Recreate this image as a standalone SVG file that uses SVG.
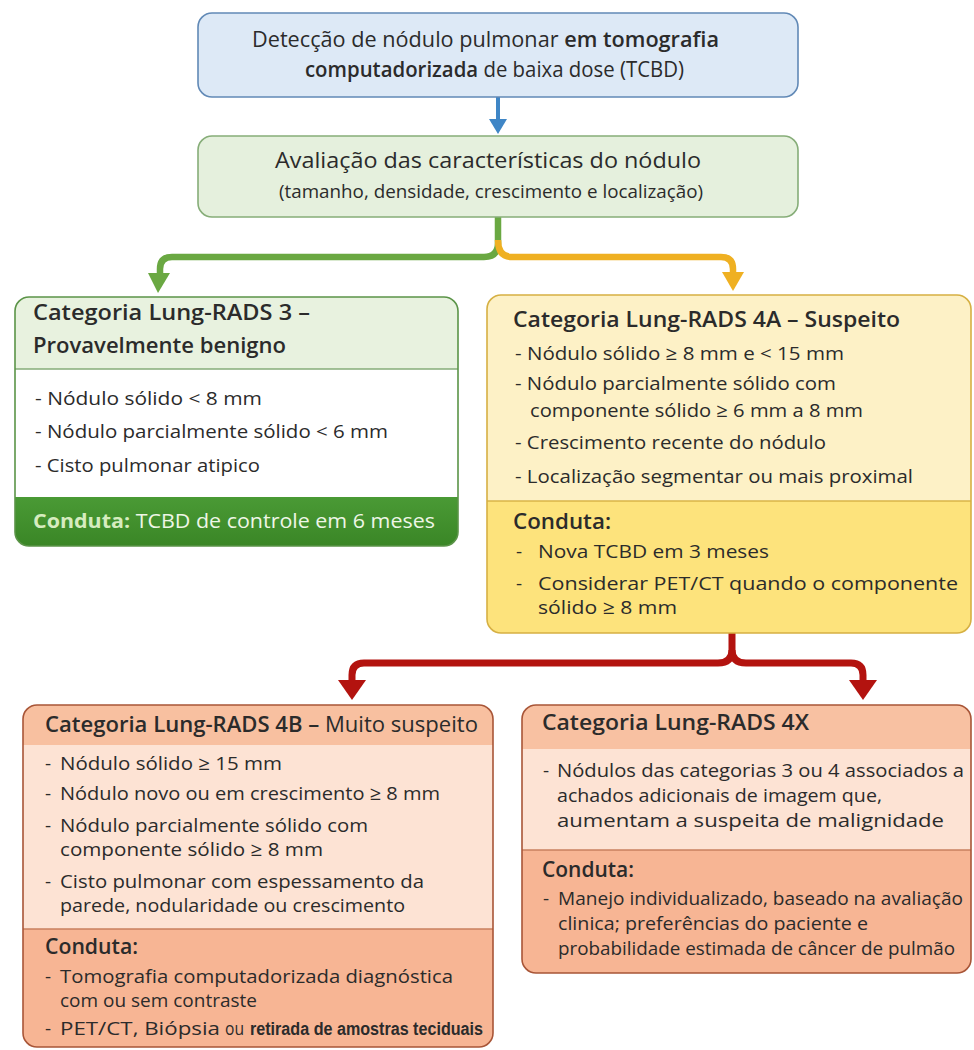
<svg xmlns="http://www.w3.org/2000/svg" width="974" height="1050" viewBox="0 0 974 1050">
<defs>
<style>
text{font-family:"Open Sans","Noto Sans","Liberation Sans",sans-serif;fill:#2b2b2b;}
.b{font-size:19px;}
.s{font-size:18.5px;}
.t{font-size:21px;font-weight:600;}
.h{font-weight:600;}
.cg{font-size:20px;fill:#eef6e6;}
.cgb{font-weight:700;fill:#d6ecbf;}
.frame{fill:none;stroke-width:1.6;}
</style>
<clipPath id="c3"><rect x="15" y="297" width="443" height="249" rx="14"/></clipPath>
<clipPath id="c4a"><rect x="487" y="295" width="484" height="338" rx="14"/></clipPath>
<clipPath id="c4b"><rect x="23" y="705" width="470" height="342" rx="14"/></clipPath>
<clipPath id="c4x"><rect x="522" y="705" width="449" height="268" rx="14"/></clipPath>
<linearGradient id="gband" x1="0" y1="0" x2="0" y2="1"><stop offset="0" stop-color="#4a9a35"/><stop offset="1" stop-color="#3a8626"/></linearGradient>
</defs>

<g id="connectors">
<line x1="498" y1="97" x2="498" y2="121" stroke="#3f86c6" stroke-width="4"/>
<polygon points="489,119 507,119 498,134" fill="#3f86c6"/>
<path d="M498,217 V243 Q498,257 484,257 H172 Q160,257 160,269 V276" fill="none" stroke="#6aa842" stroke-width="6.5"/>
<polygon points="148,273 170,273 158,293" fill="#6aa842"/>
<path d="M498,240 Q498,257 512,257 H721 Q733,257 733,269 V274" fill="none" stroke="#efb022" stroke-width="6.5"/>
<polygon points="722,272 744,272 733,291" fill="#efb022"/>
<path d="M732,633 V650 Q732,663 718,663 H364 Q352,663 352,675 V683" fill="none" stroke="#b3130f" stroke-width="7"/>
<path d="M732,650 Q732,663 746,663 H851 Q863,663 863,675 V683" fill="none" stroke="#b3130f" stroke-width="7"/>
<polygon points="338,680 366,680 352,700" fill="#b3130f"/>
<polygon points="849,680 877,680 863,700" fill="#b3130f"/>
</g>

<g id="n-deteccao">
<rect x="198" y="13" width="600" height="84" rx="14" fill="#dde9f6" stroke="#6189b6" stroke-width="1.6"/>
<text x="252" y="47" style="font-size:21px" textLength="467" lengthAdjust="spacingAndGlyphs">Detecção de nódulo pulmonar <tspan class="h">em tomografia</tspan></text>
<text x="305" y="77" style="font-size:21px" textLength="379" lengthAdjust="spacingAndGlyphs"><tspan class="h">computadorizada</tspan> de baixa dose (TCBD)</text>
</g>

<g id="n-avaliacao">
<rect x="198" y="136" width="600" height="81" rx="14" fill="#e5f0dd" stroke="#86ad78" stroke-width="1.6"/>
<text x="275" y="168" style="font-size:22.5px;font-weight:500" textLength="426" lengthAdjust="spacingAndGlyphs">Avaliação das características do nódulo</text>
<text x="279" y="198" style="font-size:18px" textLength="424" lengthAdjust="spacingAndGlyphs">(tamanho, densidade, crescimento e localização)</text>
</g>

<g id="n-rads3">
<g clip-path="url(#c3)">
<rect x="15" y="297" width="443" height="72" fill="#e8f2df"/>
<rect x="15" y="369" width="443" height="128" fill="#ffffff"/>
<rect x="15" y="497" width="443" height="49" fill="url(#gband)"/>
</g>
<line x1="15" y1="369" x2="458" y2="369" stroke="#86ad78" stroke-width="1.4"/>
<rect x="15" y="297" width="443" height="249" rx="14" class="frame" stroke="#5b9448"/>
<text x="33" y="320" class="t" textLength="277" lengthAdjust="spacingAndGlyphs">Categoria Lung-RADS 3 –</text>
<text x="33" y="353" class="t" textLength="253" lengthAdjust="spacingAndGlyphs">Provavelmente benigno</text>
<text x="35" y="405" class="b" textLength="227" lengthAdjust="spacingAndGlyphs">- Nódulo sólido &lt; 8 mm</text>
<text x="35" y="438" class="b" textLength="353" lengthAdjust="spacingAndGlyphs">- Nódulo parcialmente sólido &lt; 6 mm</text>
<text x="35" y="472" class="b" textLength="225" lengthAdjust="spacingAndGlyphs">- Cisto pulmonar atipico</text>
<text x="33" y="528" class="cg" textLength="402" lengthAdjust="spacingAndGlyphs"><tspan class="cgb">Conduta:</tspan> TCBD de controle em 6 meses</text>
</g>

<g id="n-rads4a">
<g clip-path="url(#c4a)">
<rect x="487" y="295" width="484" height="206" fill="#fdf1c6"/>
<rect x="487" y="501" width="484" height="132" fill="#fde37c"/>
</g>
<line x1="487" y1="501" x2="971" y2="501" stroke="#d9b548" stroke-width="1.4"/>
<rect x="487" y="295" width="484" height="338" rx="14" class="frame" stroke="#d6b043"/>
<text x="513" y="327" class="t" textLength="387" lengthAdjust="spacingAndGlyphs">Categoria Lung-RADS 4A – Suspeito</text>
<text x="515" y="360" class="b" textLength="329" lengthAdjust="spacingAndGlyphs">- Nódulo sólido ≥ 8 mm e &lt; 15 mm</text>
<text x="515" y="390" class="b" textLength="321" lengthAdjust="spacingAndGlyphs">- Nódulo parcialmente sólido com</text>
<text x="530" y="417" class="b" textLength="333" lengthAdjust="spacingAndGlyphs">componente sólido ≥ 6 mm a 8 mm</text>
<text x="515" y="449" class="b" textLength="311" lengthAdjust="spacingAndGlyphs">- Crescimento recente do nódulo</text>
<text x="515" y="483" class="b" textLength="398" lengthAdjust="spacingAndGlyphs">- Localização segmentar ou mais proximal</text>
<text x="513" y="529" class="t" textLength="98" lengthAdjust="spacingAndGlyphs">Conduta:</text>
<text x="516" y="558" class="b">-</text>
<text x="538" y="558" class="b" textLength="231" lengthAdjust="spacingAndGlyphs">Nova TCBD em 3 meses</text>
<text x="516" y="590" class="b">-</text>
<text x="538" y="590" class="b" textLength="420" lengthAdjust="spacingAndGlyphs">Considerar PET/CT quando o componente</text>
<text x="538" y="614" class="b" textLength="139" lengthAdjust="spacingAndGlyphs">sólido ≥ 8 mm</text>
</g>

<g id="n-rads4b">
<g clip-path="url(#c4b)">
<rect x="23" y="705" width="470" height="40" fill="#f8c0a0"/>
<rect x="23" y="745" width="470" height="184" fill="#fde3d4"/>
<rect x="23" y="929" width="470" height="118" fill="#f7b594"/>
</g>
<line x1="23" y1="929" x2="493" y2="929" stroke="#c9805f" stroke-width="1.4"/>
<rect x="23" y="705" width="470" height="342" rx="14" class="frame" stroke="#a85537"/>
<text x="45" y="732" class="t" textLength="433" lengthAdjust="spacingAndGlyphs">Categoria Lung-RADS 4B – <tspan style="font-weight:400">Muito suspeito</tspan></text>
<text x="45" y="770" class="b">-</text>
<text x="60" y="770" class="b" textLength="222" lengthAdjust="spacingAndGlyphs">Nódulo sólido ≥ 15 mm</text>
<text x="45" y="800" class="b">-</text>
<text x="60" y="800" class="b" textLength="380" lengthAdjust="spacingAndGlyphs">Nódulo novo ou em crescimento ≥ 8 mm</text>
<text x="45" y="832" class="b">-</text>
<text x="60" y="832" class="b" textLength="308" lengthAdjust="spacingAndGlyphs">Nódulo parcialmente sólido com</text>
<text x="60" y="856" class="b" textLength="263" lengthAdjust="spacingAndGlyphs">componente sólido ≥ 8 mm</text>
<text x="45" y="888" class="b">-</text>
<text x="60" y="888" class="b" textLength="364" lengthAdjust="spacingAndGlyphs">Cisto pulmonar com espessamento da</text>
<text x="60" y="912" class="b" textLength="345" lengthAdjust="spacingAndGlyphs">parede, nodularidade ou crescimento</text>
<text x="45" y="954" class="t" textLength="93" lengthAdjust="spacingAndGlyphs">Conduta:</text>
<text x="45" y="983" class="b">-</text>
<text x="60" y="983" class="b" textLength="393" lengthAdjust="spacingAndGlyphs">Tomografia computadorizada diagnóstica</text>
<text x="60" y="1007" class="b" textLength="197" lengthAdjust="spacingAndGlyphs">com ou sem contraste</text>
<text x="45" y="1035" class="b">-</text>
<text x="60" y="1035" class="b" textLength="160" lengthAdjust="spacingAndGlyphs">PET/CT, Biópsia</text>
<text x="225" y="1035" style="font-size:18px" textLength="19" lengthAdjust="spacingAndGlyphs">ou</text>
<text x="250" y="1035" style="font-family:'Liberation Sans',Arial,sans-serif;font-size:18px;font-weight:600" textLength="233" lengthAdjust="spacingAndGlyphs">retirada de amostras teciduais</text>
</g>

<g id="n-rads4x">
<g clip-path="url(#c4x)">
<rect x="522" y="705" width="449" height="44" fill="#f8c1a2"/>
<rect x="522" y="749" width="449" height="101" fill="#fde3d4"/>
<rect x="522" y="850" width="449" height="123" fill="#f7b594"/>
</g>
<line x1="522" y1="850" x2="971" y2="850" stroke="#c9805f" stroke-width="1.4"/>
<rect x="522" y="705" width="449" height="268" rx="14" class="frame" stroke="#a85537"/>
<text x="542" y="730" class="t" textLength="267" lengthAdjust="spacingAndGlyphs">Categoria Lung-RADS 4X</text>
<text x="543" y="777" class="b">-</text>
<text x="557" y="777" class="s" textLength="407" lengthAdjust="spacingAndGlyphs">Nódulos das categorias 3 ou 4 associados a</text>
<text x="557" y="802" class="b" textLength="325" lengthAdjust="spacingAndGlyphs">achados adicionais de imagem que,</text>
<text x="557" y="827" class="b" textLength="387" lengthAdjust="spacingAndGlyphs">aumentam a suspeita de malignidade</text>
<text x="542" y="877" class="t" textLength="92" lengthAdjust="spacingAndGlyphs">Conduta:</text>
<text x="543" y="905" class="b">-</text>
<text x="558" y="905" class="s" textLength="405" lengthAdjust="spacingAndGlyphs">Manejo individualizado, baseado na avaliação</text>
<text x="558" y="930" class="b" textLength="310" lengthAdjust="spacingAndGlyphs">clinica; preferências do paciente e</text>
<text x="558" y="955" class="s" textLength="397" lengthAdjust="spacingAndGlyphs">probabilidade estimada de câncer de pulmão</text>
</g>
</svg>
